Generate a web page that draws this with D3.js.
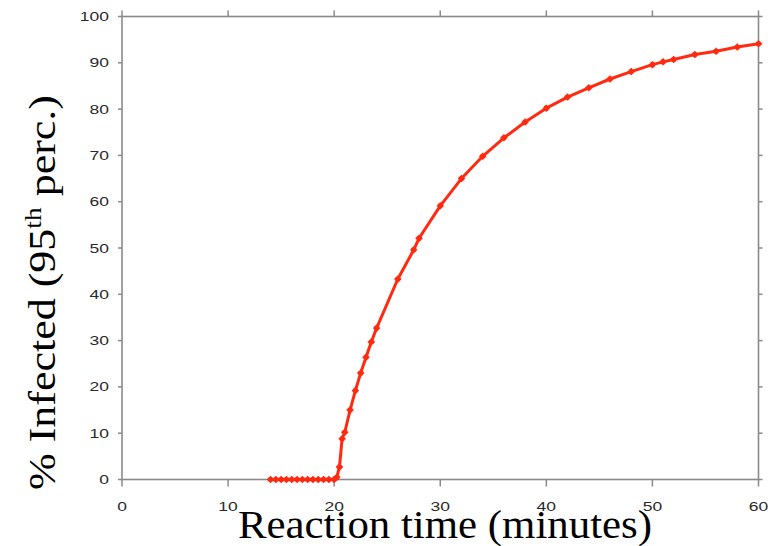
<!DOCTYPE html>
<html>
<head>
<meta charset="utf-8">
<script src="https://cdn.jsdelivr.net/npm/d3@7"></script>
<style>
  html, body { margin: 0; padding: 0; background: #fff; }
  svg { display: block; }
</style>
</head>
<body>
<svg id="chart" width="768" height="546"></svg>
<script>
// Data
const reactionTime = [14, 14.5, 15, 15.5, 16, 16.5, 17, 17.5, 18, 18.5, 19, 19.5, 20,
  20.25, 20.5, 20.75, 21, 21.5, 22, 22.5, 23, 23.5, 24, 26, 27.5, 28, 30, 32, 34, 36, 38,
  40, 42, 44, 46, 48, 50, 51, 52, 54, 56, 58, 60];
const infected = [0, 0, 0, 0, 0, 0, 0, 0, 0, 0, 0, 0, 0,
  0.5, 2.7, 8.8, 10.2, 15, 19.2, 23, 26.4, 29.7, 32.7, 43.3, 49.6, 52.1, 59.1, 65, 69.8, 73.8, 77.2,
  80.2, 82.6, 84.6, 86.5, 88.1, 89.6, 90.2, 90.7, 91.8, 92.5, 93.4, 94.1];
const xTicks = [0, 10, 20, 30, 40, 50, 60];
const yTicks = [0, 10, 20, 30, 40, 50, 60, 70, 80, 90, 100];
const xTitle = "Reaction time (minutes)";
const yTitleParts = ["% Infected (95", "th", " perc.)"];

(function () {
const svg = d3.select("#chart");
const mLeft = 122, mRight = 758.5, mTop = 16.5, mBottom = 479.5;

const x = d3.scaleLinear().domain([0, 60]).range([mLeft, mRight]);
const y = d3.scaleLinear().domain([0, 100]).range([mBottom, mTop]);

const axisColor = "#8a8a8a";
const labelColor = "#2a2a2a";

// Ticks (outward on all four sides)
const g = svg.append("g");
xTicks.forEach(t => {
  g.append("line").attr("x1", x(t)).attr("x2", x(t)).attr("y1", mBottom).attr("y2", mBottom + 7)
    .attr("stroke", axisColor).attr("stroke-width", 1.5);
  g.append("line").attr("x1", x(t)).attr("x2", x(t)).attr("y1", mTop).attr("y2", mTop - 6)
    .attr("stroke", axisColor).attr("stroke-width", 1.5);
});
yTicks.forEach(t => {
  g.append("line").attr("x1", mLeft).attr("x2", mLeft - 4).attr("y1", y(t)).attr("y2", y(t))
    .attr("stroke", axisColor).attr("stroke-width", 1.5);
  g.append("line").attr("x1", mRight).attr("x2", mRight + 4).attr("y1", y(t)).attr("y2", y(t))
    .attr("stroke", axisColor).attr("stroke-width", 1.5);
});

// Frame
svg.append("rect").attr("x", mLeft).attr("y", mTop).attr("width", mRight - mLeft).attr("height", mBottom - mTop)
  .attr("fill", "none").attr("stroke", axisColor).attr("stroke-width", 1.6);

// Tick labels (horizontally stretched like the reference)
xTicks.forEach(t => {
  svg.append("text").attr("transform", `translate(${x(t)},${mBottom + 31}) scale(1.4,1)`)
    .attr("text-anchor", "middle")
    .attr("font-family", "Liberation Sans, Arial, sans-serif").attr("font-size", 12.5)
    .attr("fill", labelColor).text(t);
});
yTicks.forEach(t => {
  svg.append("text").attr("transform", `translate(109,${y(t) + 4.5}) scale(1.4,1)`)
    .attr("text-anchor", "end")
    .attr("font-family", "Liberation Sans, Arial, sans-serif").attr("font-size", 12.5)
    .attr("fill", labelColor).text(t);
});

// Line and markers
const line = d3.line().x((d, i) => x(reactionTime[i])).y(d => y(d));
const red = "#ff2a10";
svg.append("path").datum(infected).attr("d", line)
  .attr("fill", "none").attr("stroke", red).attr("stroke-width", 3).attr("stroke-linejoin", "round");

const mk = svg.append("g");
infected.forEach((v, i) => {
  const cx = x(reactionTime[i]), cy = y(v);
  mk.append("circle").attr("cx", cx).attr("cy", cy).attr("r", 2.8).attr("fill", red);
  mk.append("path").attr("d", `M${cx - 3.5},${cy}H${cx + 3.5}M${cx},${cy - 3.5}V${cy + 3.5}`)
    .attr("stroke", red).attr("stroke-width", 1.4);
});

// Axis titles
svg.append("text").attr("x", 238).attr("y", 538)
  .attr("font-family", "Liberation Serif, Times New Roman, serif").attr("font-size", 40)
  .attr("textLength", 414).attr("lengthAdjust", "spacingAndGlyphs")
  .attr("fill", "#000").text(xTitle);

const yt = svg.append("text").attr("transform", "translate(55,490) rotate(-90)")
  .attr("font-family", "Liberation Serif, Times New Roman, serif").attr("font-size", 37)
  .attr("textLength", 395).attr("lengthAdjust", "spacingAndGlyphs")
  .attr("fill", "#000");
yt.append("tspan").text(yTitleParts[0]);
yt.append("tspan").attr("font-size", 23).attr("dy", -14).text(yTitleParts[1]);
yt.append("tspan").attr("dy", 14).text(yTitleParts[2]);
})();
</script>
</body>
</html>
